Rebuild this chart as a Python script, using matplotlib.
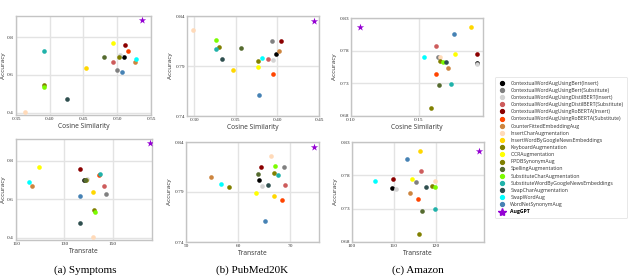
import matplotlib
matplotlib.use("Agg")
import matplotlib.pyplot as plt
from matplotlib.lines import Line2D

methods = [
    "ContextualWordAugUsingBert(Insert)",
    "ContextualWordAugUsingBert(Substitute)",
    "ContextualWordAugUsingDistilBERT(Insert)",
    "ContextualWordAugUsingDistilBERT(Substitute)",
    "ContextualWordAugUsingRoBERTA(Insert)",
    "ContextualWordAugUsingRoBERTA(Substitute)",
    "CounterFittedEmbeddingAug",
    "InsertCharAugmentation",
    "InsertWordByGoogleNewsEmbeddings",
    "KeyboardAugmentation",
    "OCRAugmentation",
    "PPDBSynonymAug",
    "SpellingAugmentation",
    "SubstituteCharAugmentation",
    "SubstituteWordByGoogleNewsEmbeddings",
    "SwapCharAugmentation",
    "SwapWordAug",
    "WordNetSynonymAug",
    "AugGPT",
]
colors = [
    "black", "gray", "lightgray", "indianred", "darkred", "orangered",
    "peru", "peachpuff", "gold", "olive", "yellow", "olive",
    "darkolivegreen", "lawngreen", "lightseagreen", "darkslategray",
    "cyan", "steelblue", "darkviolet",
]

# Symptoms
sym_cos = [0.510, 0.499, 0.504, 0.494, 0.512, 0.516, 0.526, 0.364, 0.454,
           0.391, 0.494, 0.502, 0.480, 0.391, 0.391, 0.426, 0.528, 0.507,
           0.537]
sym_tr = [138.0, 147.1, 139.5, 146.4, 136.4, 144.3, 116.5, 141.7, 141.7,
          142.3, 119.4, 138.8, 138.4, 142.6, 144.7, 136.3, 115.4, 136.7,
          165.4]
sym_acc = [0.697, 0.627, 0.707, 0.668, 0.758, 0.727, 0.668, 0.404, 0.636,
           0.546, 0.768, 0.697, 0.697, 0.535, 0.728, 0.475, 0.687, 0.617,
           0.890]

# PubMed20K
pub_cos = [0.398, 0.393, 0.395, 0.389, 0.404, 0.394, 0.402, 0.298, 0.346,
           0.330, 0.376, 0.377, 0.356, 0.326, 0.326, 0.333, 0.381, 0.378,
           0.444]
pub_tr = [64.0, 68.7, 64.5, 69.0, 64.3, 68.5, 54.8, 66.3, 66.9,
          66.9, 63.4, 58.2, 63.8, 67.0, 67.6, 65.8, 56.7, 65.2,
          74.5]
pub_acc = [0.802, 0.815, 0.796, 0.797, 0.815, 0.782, 0.805, 0.826, 0.786,
           0.809, 0.789, 0.795, 0.808, 0.816, 0.807, 0.797, 0.798, 0.761,
           0.835]

# Amazon
ama_cos = [0.193, 0.164, 0.193, 0.163, 0.193, 0.163, 0.172, 0.166, 0.189,
           0.159, 0.177, 0.166, 0.165, 0.168, 0.174, 0.170, 0.154, 0.176,
           0.107]
ama_tr = [109.6, 115.3, 110.6, 116.4, 109.8, 115.7, 113.8, 119.8, 116.3,
          116.0, 114.2, 119.1, 116.7, 119.7, 119.8, 117.7, 105.5, 113.1,
          130.4]
ama_acc = [0.761, 0.770, 0.759, 0.787, 0.775, 0.745, 0.754, 0.771, 0.816,
           0.692, 0.775, 0.764, 0.727, 0.763, 0.729, 0.763, 0.771, 0.805,
           0.816]

W, H = 640, 279


def px_axes(fig, left, right, top, bottom):
    return fig.add_axes([left / W, 1 - bottom / H, (right - left) / W,
                         (bottom - top) / H])


def draw(ax, xs, ys, xlabel, xlim, ylim, xticks, yticks, xfmt, yfmt,
         ypad=1.5):
    for i, (x, y) in enumerate(zip(xs, ys)):
        if methods[i] == "AugGPT":
            ax.scatter(x, y, marker="*", s=30, color=colors[i], zorder=3,
                       linewidths=0)
        else:
            ax.scatter(x, y, s=11, color=colors[i], zorder=3, linewidths=0)
    ax.set_xlim(*xlim)
    ax.set_ylim(*ylim)
    ax.set_xticks(xticks)
    ax.set_yticks(yticks)
    ax.set_xticklabels([xfmt.format(t) for t in xticks],
                       family="Liberation Serif", fontsize=3.9)
    ax.set_yticklabels([yfmt.format(t) for t in yticks],
                       family="Liberation Serif", fontsize=3.9)
    ax.tick_params(length=0, pad=1.5, colors="#333333")
    ax.grid(True, color="#e3e3e3", linewidth=1.0)
    ax.set_axisbelow(True)
    for s in ax.spines.values():
        s.set_color("#c4c4c4")
        s.set_linewidth(1.0)
    ax.set_xlabel(xlabel, fontsize=4.8, family="Open Sans", labelpad=1.5,
                  color="#333333")
    ax.set_ylabel("Accuracy", fontsize=4.6, family="Open Sans",
                  labelpad=ypad, color="#333333")


fig = plt.figure(figsize=(6.4, 2.79), dpi=100)

ax = px_axes(fig, 16, 151, 16, 115)
draw(ax, sym_cos, sym_acc, "Cosine Similarity", (0.35, 0.55), (0.388, 0.912),
     [0.35, 0.40, 0.45, 0.50, 0.55], [0.4, 0.6, 0.8], "{:.2f}", "{:.1f}",
     ypad=0.4)
ax = px_axes(fig, 187, 319, 16, 116)
draw(ax, pub_cos, pub_acc, "Cosine Similarity", (0.291, 0.45), (0.74, 0.84),
     [0.30, 0.35, 0.40, 0.45], [0.74, 0.79, 0.84], "{:.2f}", "{:.2f}")
ax = px_axes(fig, 351, 483, 18, 116)
draw(ax, ama_cos, ama_acc, "Cosine Similarity", (0.10, 0.1975), (0.68, 0.83),
     [0.10, 0.15], [0.68, 0.73, 0.78, 0.83], "{:.2f}", "{:.2f}")

ax = px_axes(fig, 16, 152, 139, 240)
draw(ax, sym_tr, sym_acc, "Transrate", (110, 166.3), (0.388, 0.912),
     [110, 130, 150], [0.4, 0.6, 0.8], "{:d}", "{:.1f}", ypad=0.4)
ax = px_axes(fig, 186, 319, 142, 242)
draw(ax, pub_tr, pub_acc, "Transrate", (50, 75.5), (0.74, 0.84),
     [50, 60, 70], [0.74, 0.79, 0.84], "{:d}", "{:.2f}")
ax = px_axes(fig, 352, 484, 142, 242)
draw(ax, ama_tr, ama_acc, "Transrate", (100, 131.5), (0.68, 0.83),
     [100, 110, 120], [0.68, 0.73, 0.78, 0.83], "{:d}", "{:.2f}")

captions = ["(a) Symptoms", "(b) PubMed20K", "(c) Amazon"]
cap_x = [85, 252, 418]
for c, x in zip(captions, cap_x):
    fig.text(x / W, 1 - 270 / H, c, ha="center", va="center",
             family="Liberation Serif", fontsize=8)

handles = []
for m, c in zip(methods, colors):
    if m == "AugGPT":
        handles.append(Line2D([], [], marker="*", linestyle="none",
                              color=c, markersize=6))
    else:
        handles.append(Line2D([], [], marker="o", linestyle="none",
                              color=c, markersize=2.8))
leg = fig.legend(handles, methods, loc="upper left",
                 bbox_to_anchor=(495 / W, 1 - 77 / H),
                 prop={"family": "Open Sans", "size": 3.7},
                 frameon=True, labelspacing=0.42, handletextpad=0.9,
                 borderpad=0.7, handlelength=1.4, fancybox=True,
                 borderaxespad=0)
leg.get_frame().set_edgecolor("#dddddd")
leg.get_frame().set_linewidth(0.6)
for t in leg.get_texts():
    t.set_color("#333333")
leg.get_texts()[-1].set_fontweight("bold")
leg.get_texts()[-1].set_color("black")

fig.savefig("out.png", dpi=100)
